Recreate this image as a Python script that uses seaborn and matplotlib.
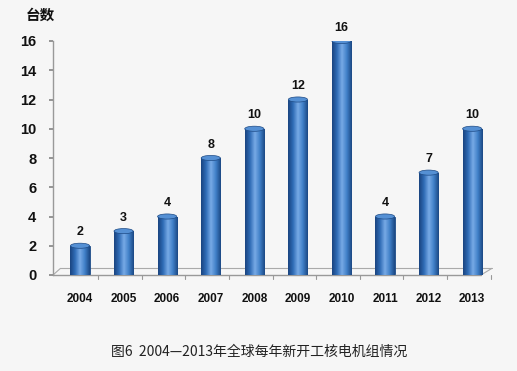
import numpy as np
import pandas as pd
import matplotlib
matplotlib.use("Agg")
import matplotlib.pyplot as plt
import seaborn as sns
from matplotlib.patches import Ellipse
from matplotlib.colors import LinearSegmentedColormap

years = ["2004", "2005", "2006", "2007", "2008", "2009", "2010", "2011", "2012", "2013"]
counts = [2, 3, 4, 8, 10, 12, 16, 4, 7, 10]
y_ticks = [0, 2, 4, 6, 8, 10, 12, 14, 16]
y_title = "台数"
caption = "图6  2004—2013年全球每年新开工核电机组情况"

sns.set_theme(style="white")
plt.rcParams['font.family'] = ['Noto Sans CJK SC', 'DejaVu Sans']
num_font = ['Liberation Sans', 'DejaVu Sans']

bg = "#f6f6f6"
fig = plt.figure(figsize=(5.17, 3.71), dpi=100, facecolor=bg)
ax = fig.add_axes([53/517, (371-275)/371, (494-53)/517, (275-41)/371])
ax.set_facecolor(bg)

df = pd.DataFrame({"year": years, "count": counts})
sns.barplot(data=df, x="year", y="count", ax=ax, color="#3270bb", width=0.44,
            edgecolor="#1d4a85", linewidth=0.6, saturation=1)

cmap = LinearSegmentedColormap.from_list("cyl", ["#1a4480", "#2f6cb6", "#78aae6", "#4080c8", "#1c4884"])
grad = np.linspace(0, 1, 64).reshape(1, -1)
for p in ax.patches:
    x0, y0 = p.get_x(), p.get_y()
    w, h = p.get_width(), p.get_height()
    im = ax.imshow(grad, extent=[x0, x0 + w, y0, y0 + h], aspect="auto", cmap=cmap, zorder=p.get_zorder() + 0.1)
    im.set_clip_path(p)
    cap = Ellipse((x0 + w / 2, y0 + h), w, 0.35, facecolor="#5590d4", edgecolor="#1d4a85", lw=0.5,
                  zorder=p.get_zorder() + 0.2)
    ax.add_patch(cap)
    ax.text(x0 + w / 2, y0 + h + 0.5, f"{int(h)}", ha="center", va="bottom",
            fontsize=9, fontweight="bold", color="#111111", family=num_font)

ax.set_xlim(-0.62, 9.5)
ax.set_ylim(0, 16)
ax.set_yticks(y_ticks)
ax.set_yticklabels([str(v) for v in y_ticks], fontsize=10.5, fontweight="bold", color="#111111", family=num_font)
ax.set_xticks(range(len(years)))
ax.set_xticklabels(years, fontsize=8.5, fontweight="bold", color="#111111", family=num_font)
ax.set_xlabel("")
ax.set_ylabel("")
ax.tick_params(axis="y", length=3, color="#888888", pad=9, left=True)
ax.tick_params(axis="x", length=0, pad=13)

for s in ["top", "right", "bottom"]:
    ax.spines[s].set_visible(False)
ax.spines["left"].set_color("#999999")
ax.spines["left"].set_linewidth(1.0)

# pseudo-3D floor
ax.plot([-0.62, 9.2], [0, 0], color="#999999", lw=1.0, clip_on=False, zorder=1)
ax.plot([-0.45, 9.45], [0.45, 0.45], color="#aaaaaa", lw=0.8, clip_on=False, zorder=0.5)
ax.plot([-0.62, -0.45], [0, 0.45], color="#aaaaaa", lw=0.8, clip_on=False, zorder=0.5)
ax.plot([9.2, 9.45], [0, 0.45], color="#aaaaaa", lw=0.8, clip_on=False, zorder=0.5)
for i in range(len(years)):
    ax.plot([i + 0.5 - 0.08, i + 0.5 - 0.08], [0, -0.25], color="#999999", lw=0.8, clip_on=False)

fig.text(26/517, 1 - 15/371, y_title, fontsize=10.5, fontweight="bold", color="#111111", va="center")
fig.text(259/517, 1 - 352/371, caption, fontsize=10, color="#222222", ha="center", va="center")

fig.savefig("out.png", dpi=100, facecolor=bg)
